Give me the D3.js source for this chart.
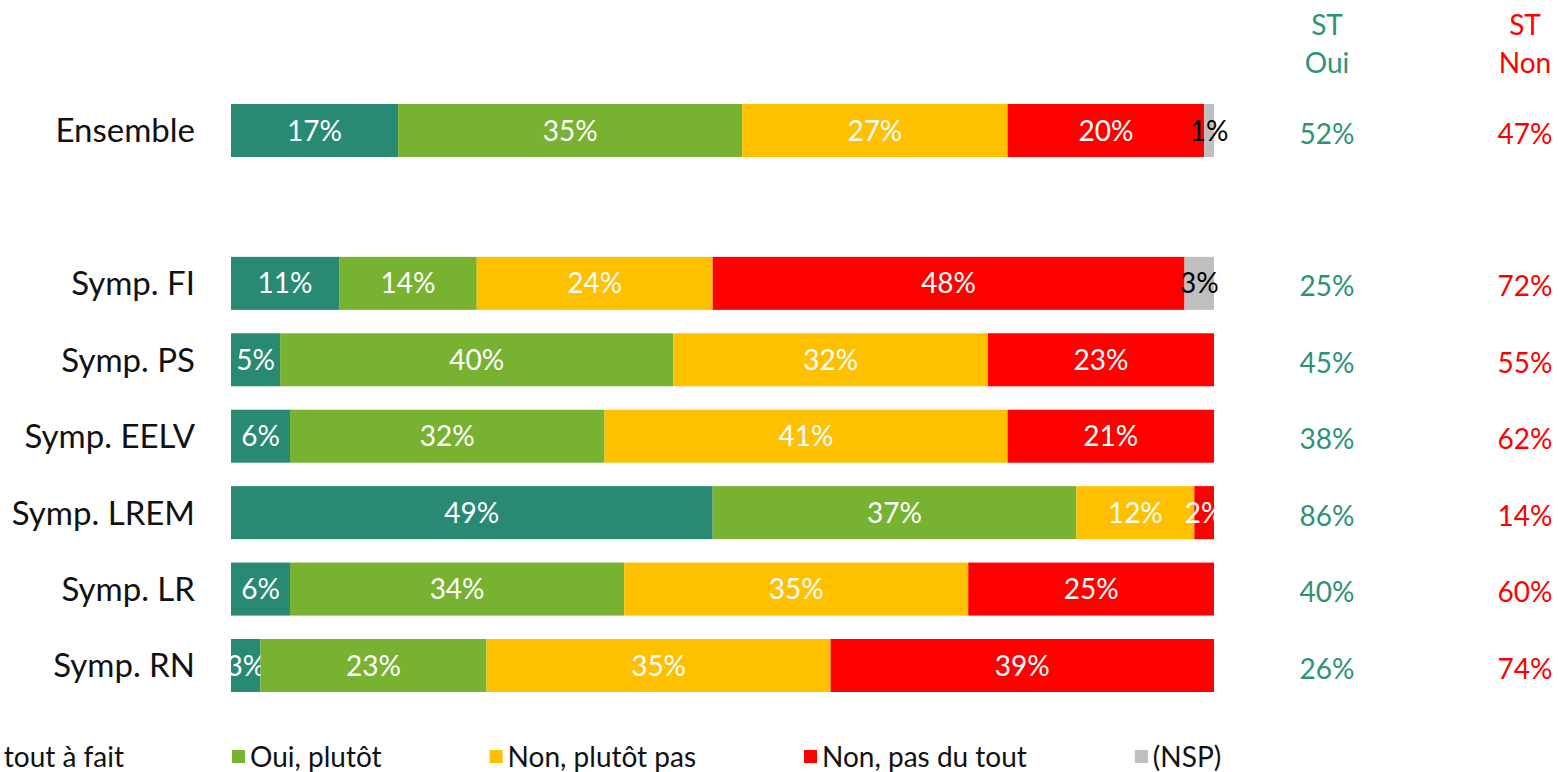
<!DOCTYPE html>
<html>
<head>
<meta charset="utf-8">
<script src="https://cdn.jsdelivr.net/npm/d3@7"></script>
<style>
  body { margin: 0; background: #fff; }
  svg text { font-family: Lato, "Open Sans", sans-serif; }
</style>
</head>
<body>
<div id="chart"></div>
<script>
// data
const groups = ["Ensemble", "", "Symp. FI", "Symp. PS", "Symp. EELV", "Symp. LREM", "Symp. LR", "Symp. RN"]
const answers = ["Oui, tout à fait", "Oui, plutôt", "Non, plutôt pas", "Non, pas du tout", "(NSP)"]
const ouiToutAFait = [17, null, 11, 5, 6, 49, 6, 3]
const ouiPlutot    = [35, null, 14, 40, 32, 37, 34, 23]
const nonPlutotPas = [27, null, 24, 32, 41, 12, 35, 35]
const nonPasDuTout = [20, null, 48, 23, 21, 2, 25, 39]
const nsp          = [1, null, 3, 0, 0, 0, 0, 0]
const stOui = ["52%", "", "25%", "45%", "38%", "86%", "40%", "26%"]
const stNon = ["47%", "", "72%", "55%", "62%", "14%", "60%", "74%"]

const colors = ["#288A73", "#77B231", "#FFC000", "#FF0000", "#BFBFBF"]
const labelColors = ["#fff", "#fff", "#fff", "#fff", "#000"]

const width = 1558
const height = 772

const svg = d3.select("#chart")
    .append("svg")
    .attr("width", width)
    .attr("height", height)

const series = [ouiToutAFait, ouiPlutot, nonPlutotPas, nonPasDuTout, nsp]
const rows = groups.map((g, i) => {
    const row = { group: g }
    answers.forEach((a, j) => row[a] = series[j][i] || 0)
    return row
}).filter(d => d.group !== "")

const stacked = d3.stack().keys(answers)(rows)

const xScale = d3.scaleLinear()
    .domain([0, 100])
    .range([231, 1214])

const yScale = d3.scaleBand()
    .domain(groups)
    .range([104, 692])
    .paddingInner(0.3066)
    .paddingOuter(0)

// bars
const layers = svg.append("g")
    .selectAll("g")
    .data(stacked)
    .join("g")
    .attr("fill", (d, i) => colors[i])

layers.selectAll("rect")
    .data(d => d.filter(s => s[1] - s[0] > 0))
    .join("rect")
    .attr("x", d => xScale(d[0]))
    .attr("y", d => yScale(d.data.group))
    .attr("width", d => xScale(d[1]) - xScale(d[0]))
    .attr("height", yScale.bandwidth())

// segment labels
layers.each(function(layer, i) {
    d3.select(this).selectAll("text")
        .data(layer.filter(s => s[1] - s[0] > 0))
        .join("text")
        .attr("x", d => (xScale(d[0]) + xScale(d[1])) / 2)
        .attr("y", d => yScale(d.data.group) + yScale.bandwidth() / 2)
        .attr("dy", "0.36em")
        .attr("text-anchor", "middle")
        .attr("fill", labelColors[i])
        .style("font-size", "28px")
        .text(d => `${d[1] - d[0]}%`)
})

// category labels
svg.append("g")
    .selectAll("text")
    .data(groups.filter(g => g !== ""))
    .join("text")
    .attr("x", 195)
    .attr("y", d => yScale(d) + yScale.bandwidth() / 2)
    .attr("dy", "0.36em")
    .attr("text-anchor", "end")
    .attr("fill", "#111")
    .style("font-size", "33px")
    .text(d => d)

// ST columns
const stCols = [
    { x: 1327, color: "#2E9277", head: ["ST", "Oui"], values: stOui },
    { x: 1525, color: "#FF0000", head: ["ST", "Non"], values: stNon },
]
stCols.forEach(col => {
    const g = svg.append("g")
        .attr("fill", col.color)
        .attr("text-anchor", "middle")
        .style("font-size", "28px")
    g.selectAll(".head")
        .data(col.head)
        .join("text")
        .attr("class", "head")
        .attr("x", col.x)
        .attr("y", (d, i) => 35 + i * 38)
        .text(d => d)
    g.selectAll(".val")
        .data(groups.map((grp, i) => ({ grp, v: col.values[i] })).filter(d => d.grp !== ""))
        .join("text")
        .attr("class", "val")
        .attr("x", col.x)
        .attr("y", d => yScale(d.grp) + yScale.bandwidth() / 2 + 3)
        .attr("dy", "0.36em")
        .text(d => d.v)
})

// legend, first item runs off the left edge as in the original
const legend = svg.append("g")
    .attr("transform", "translate(0, 757)")
const items = legend.selectAll("g")
    .data(answers)
    .join("g")
items.append("rect")
    .attr("y", -7)
    .attr("width", 13)
    .attr("height", 13)
    .attr("fill", (d, i) => colors[i])
items.append("text")
    .attr("x", 18)
    .attr("dy", "0.36em")
    .attr("fill", "#111")
    .style("font-size", "28px")
    .text(d => d)

const gap = 108
const widths = []
items.select("text").each(function() { widths.push(18 + this.getComputedTextLength()) })
let xs = [0, 232]
for (let i = 2; i < answers.length; i++) xs[i] = xs[i - 1] + widths[i - 1] + gap
xs[0] = 232 - gap - widths[0]
items.attr("transform", (d, i) => `translate(${xs[i]}, 0)`)
</script>
</body>
</html>
